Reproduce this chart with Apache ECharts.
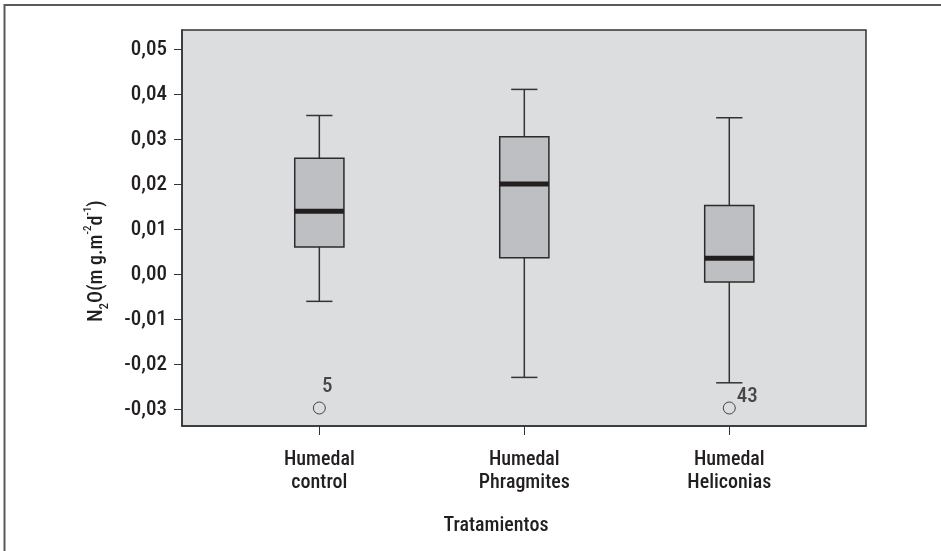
<!DOCTYPE html>
<html>
<head>
<meta charset="utf-8">
<script src="https://cdn.jsdelivr.net/npm/echarts@6/dist/echarts.min.js"></script>
<style>
html,body{margin:0;padding:0;background:#fff;}
#chart{width:941px;height:551px;}
</style>
</head>
<body>
<div id="chart"></div>
<script>
// ---- data ----
const categories = ['Humedal\ncontrol', 'Humedal\nPhragmites', 'Humedal\nHeliconias'];
const lowerWhisker = [-0.0060, -0.0229, -0.0241];
const q1 = [0.0061, 0.0037, -0.0017];
const median = [0.0140, 0.0201, 0.0036];
const q3 = [0.0258, 0.0306, 0.0153];
const upperWhisker = [0.0353, 0.0411, 0.0348];
const outlierCategory = [0, 2];
const outlierValue = [-0.0297, -0.0297];
const outlierLabel = ['5', '43'];
const yTicks = [-0.03, -0.02, -0.01, 0.00, 0.01, 0.02, 0.03, 0.04, 0.05];
const xTitle = 'Tratamientos';

const FONT = "'Roboto Condensed', 'DejaVu Sans Condensed', sans-serif";
const FW = 500;
const INK = '#231f20';

const chart = echarts.init(document.getElementById('chart'), null, {renderer: 'canvas'});

const boxData = categories.map((c, i) => [i, lowerWhisker[i], q1[i], median[i], q3[i], upperWhisker[i]]);

const option = {
  backgroundColor: '#ffffff',
  animation: false,
  grid: {
    left: 182, right: 75, top: 30, bottom: 125,
    show: true, backgroundColor: '#dcdddf', borderColor: '#333333', borderWidth: 1.5
  },
  xAxis: {
    type: 'value', min: -0.67, max: 2.667,
    splitLine: {show: false},
    axisLine: {show: true, onZero: false, lineStyle: {color: '#333333', width: 1.5}},
    axisTick: {show: true, customValues: [0, 1, 2], length: 9, lineStyle: {color: '#333333', width: 1}},
    axisLabel: {
      show: true, customValues: [0, 1, 2], margin: 22,
      formatter: v => categories[Math.round(v)],
      fontFamily: FONT, fontWeight: FW, fontSize: 20, lineHeight: 23, color: INK
    }
  },
  yAxis: {
    type: 'value', min: -0.0337, max: 0.0543,
    splitLine: {show: false},
    axisLine: {show: true, onZero: false, lineStyle: {color: '#333333', width: 1.5}},
    axisTick: {show: true, customValues: yTicks, length: 8, lineStyle: {color: '#333333', width: 1}},
    axisLabel: {
      show: true, customValues: yTicks, margin: 15,
      formatter: v => v.toFixed(2).replace('.', ','),
      fontFamily: FONT, fontWeight: FW, fontSize: 21, color: INK
    }
  },
  series: [
    {
      type: 'custom',
      data: boxData,
      encode: {x: 0, y: [1, 2, 3, 4, 5]},
      renderItem: function (params, api) {
        const x = api.value(0);
        const lo = api.coord([x, api.value(1)]);
        const b1 = api.coord([x, api.value(2)]);
        const md = api.coord([x, api.value(3)]);
        const b3 = api.coord([x, api.value(4)]);
        const hi = api.coord([x, api.value(5)]);
        const bw = api.size([0.24, 0])[0];
        const cw = api.size([0.128, 0])[0];
        const cx = lo[0];
        const ws = {stroke: '#333333', lineWidth: 1.5};
        return {
          type: 'group',
          children: [
            {type: 'line', shape: {x1: cx, y1: hi[1], x2: cx, y2: b3[1]}, style: ws},
            {type: 'line', shape: {x1: cx, y1: b1[1], x2: cx, y2: lo[1]}, style: ws},
            {type: 'line', shape: {x1: cx - cw / 2, y1: hi[1], x2: cx + cw / 2, y2: hi[1]}, style: ws},
            {type: 'line', shape: {x1: cx - cw / 2, y1: lo[1], x2: cx + cw / 2, y2: lo[1]}, style: ws},
            {type: 'rect', shape: {x: cx - bw / 2, y: b3[1], width: bw, height: b1[1] - b3[1]},
              style: {fill: '#bebfc3', stroke: '#2b2b2b', lineWidth: 1.5}},
            {type: 'line', shape: {x1: cx - bw / 2, y1: md[1], x2: cx + bw / 2, y2: md[1]},
              style: {stroke: INK, lineWidth: 5}}
          ]
        };
      }
    },
    {
      type: 'scatter',
      symbol: 'circle',
      symbolSize: 12,
      itemStyle: {color: 'rgba(0,0,0,0)', borderColor: INK, borderWidth: 1},
      data: outlierValue.map((v, i) => ({
        value: [outlierCategory[i], v],
        label: {offset: i === 0 ? [8, -21] : [18, -11]}
      })),
      label: {
        show: true, position: 'inside',
        formatter: p => outlierLabel[p.dataIndex],
        fontFamily: FONT, fontWeight: FW, fontSize: 21, color: INK
      }
    }
  ],
  graphic: [
    {type: 'line', shape: {x1: 4, y1: 5, x2: 941, y2: 5}, style: {stroke: '#5a5a5a', lineWidth: 2}},
    {type: 'line', shape: {x1: 4.5, y1: 4, x2: 4.5, y2: 551}, style: {stroke: '#5a5a5a', lineWidth: 2}},
    {
      type: 'text', x: 496, y: 526,
      style: {text: xTitle, fontFamily: FONT, fontWeight: FW, fontSize: 20, fill: INK, align: 'center', verticalAlign: 'middle'}
    },
    {
      type: 'text', x: 97, y: 261, rotation: Math.PI / 2,
      style: {
        text: '{n|N}{sub|2}{n|O(m g.m}{sup|-2}{n|d}{sup|-1}{n|)}',
        align: 'center', verticalAlign: 'middle', fill: INK,
        rich: {
          n: {fontFamily: FONT, fontWeight: FW, fontSize: 20, lineHeight: 28, fill: INK},
          sub: {fontFamily: FONT, fontWeight: FW, fontSize: 13, lineHeight: 13, verticalAlign: 'bottom', fill: INK},
          sup: {fontFamily: FONT, fontWeight: FW, fontSize: 11, lineHeight: 11, verticalAlign: 'top', fill: INK}
        }
      }
    }
  ]
};
chart.setOption(option);
</script>
</body>
</html>
